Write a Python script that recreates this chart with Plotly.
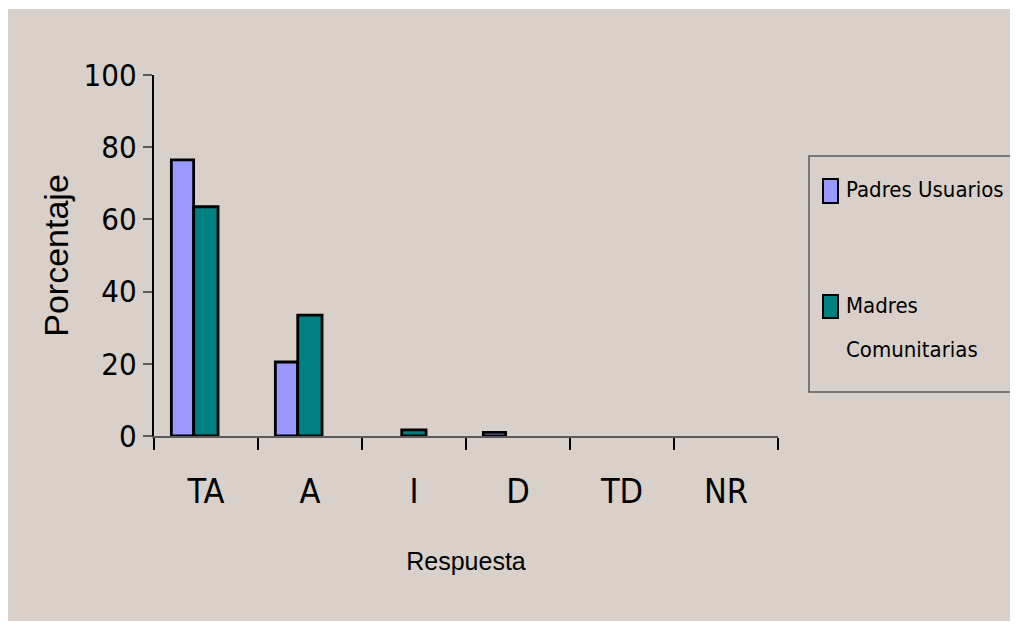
import plotly.graph_objects as go

categories = ["TA", "A", "I", "D", "TD", "NR"]
padres_usuarios = [76.5, 20.5, 0, 1.0, 0, 0]
madres_comunitarias = [63.5, 33.5, 1.7, 0, 0, 0]
y_ticks = [0, 20, 40, 60, 80, 100]

# page offset of the figure (default body margin) and figure size
OFF = 8
W, H = 1002, 613
# plot area in page pixels: x 154..778, y 75..436
L, T = 154 - OFF, 75 - OFF
R = W - (778 - OFF)
B = H - (436 - OFF)
PW, PH = W - L - R, H - T - B

def px_x(x):
    return (x - OFF - L) / PW

def px_y(y):
    return (H - B - (y - OFF)) / PH

BG = "#D9D0CA"
NARROW = "DejaVu Sans Condensed, Liberation Sans Narrow, Arial Narrow, sans-serif"
REG = "Liberation Sans, Arial, sans-serif"

fig = go.Figure()
fig.add_trace(go.Bar(
    x=categories, y=padres_usuarios, name="Padres Usuarios",
    offset=-0.333, width=0.214,
    marker=dict(color="#9999FF",
                line=dict(color="black", width=[2.8 if v > 0 else 0 for v in padres_usuarios])),
    showlegend=False,
))
fig.add_trace(go.Bar(
    x=categories, y=madres_comunitarias, name="Madres Comunitarias",
    offset=-0.118, width=0.234,
    marker=dict(color="#008080",
                line=dict(color="black", width=[2.8 if v > 0 else 0 for v in madres_comunitarias])),
    showlegend=False,
))

shapes = [
    dict(type="rect", xref="paper", yref="paper", layer="below",
         x0=px_x(6), x1=px_x(1030), y0=px_y(640), y1=px_y(9),
         fillcolor=BG, line=dict(width=0)),
    dict(type="rect", xref="paper", yref="paper",
         x0=px_x(809), x1=px_x(1040), y0=px_y(392), y1=px_y(156),
         fillcolor="rgba(0,0,0,0)", line=dict(color="#5A5A5A", width=1.5)),
    dict(type="rect", xref="paper", yref="paper",
         x0=px_x(823), x1=px_x(838), y0=px_y(203), y1=px_y(179),
         fillcolor="#9999FF", line=dict(color="black", width=2)),
    dict(type="rect", xref="paper", yref="paper",
         x0=px_x(823), x1=px_x(838), y0=px_y(318), y1=px_y(295),
         fillcolor="#008080", line=dict(color="black", width=2)),
]

leg_lines = [("Padres Usuarios", 189), ("Madres", 305), ("Comunitarias", 349)]
annotations = [
    dict(text=t, xref="paper", yref="paper", x=px_x(844), y=px_y(yc),
         xanchor="left", yanchor="middle", showarrow=False,
         font=dict(family=NARROW, size=22, color="black"))
    for t, yc in leg_lines
]

fig.update_layout(
    width=W, height=H,
    margin=dict(l=L, r=R, t=T, b=B, autoexpand=False),
    paper_bgcolor="white", plot_bgcolor=BG,
    barmode="overlay",
    shapes=shapes, annotations=annotations,
    showlegend=False,
    xaxis=dict(
        type="category", categoryorder="array", categoryarray=categories,
        range=[-0.5, len(categories) - 0.5],
        tickson="boundaries", ticks="outside", ticklen=12, tickwidth=1.5, tickcolor="black",
        showline=True, linecolor="#5A5A5A", linewidth=2,
        showgrid=False, zeroline=False,
        tickfont=dict(family=NARROW, size=34, color="black"),
        ticklabelstandoff=24,
        title=dict(text="Respuesta", font=dict(family=REG, size=25, color="black"), standoff=43),
    ),
    yaxis=dict(
        range=[0, 100], tickvals=y_ticks, ticktext=[str(v) for v in y_ticks],
        ticks="outside", ticklen=9, tickwidth=1.5, tickcolor="#5A5A5A",
        showline=True, linecolor="black", linewidth=2,
        showgrid=False, zeroline=False,
        tickfont=dict(family=NARROW, size=31, color="black"),
        ticklabelstandoff=0,
        title=dict(text="Porcentaje", font=dict(family=REG, size=34, color="black"), standoff=5),
    ),
)

fig.write_html("out.html")
